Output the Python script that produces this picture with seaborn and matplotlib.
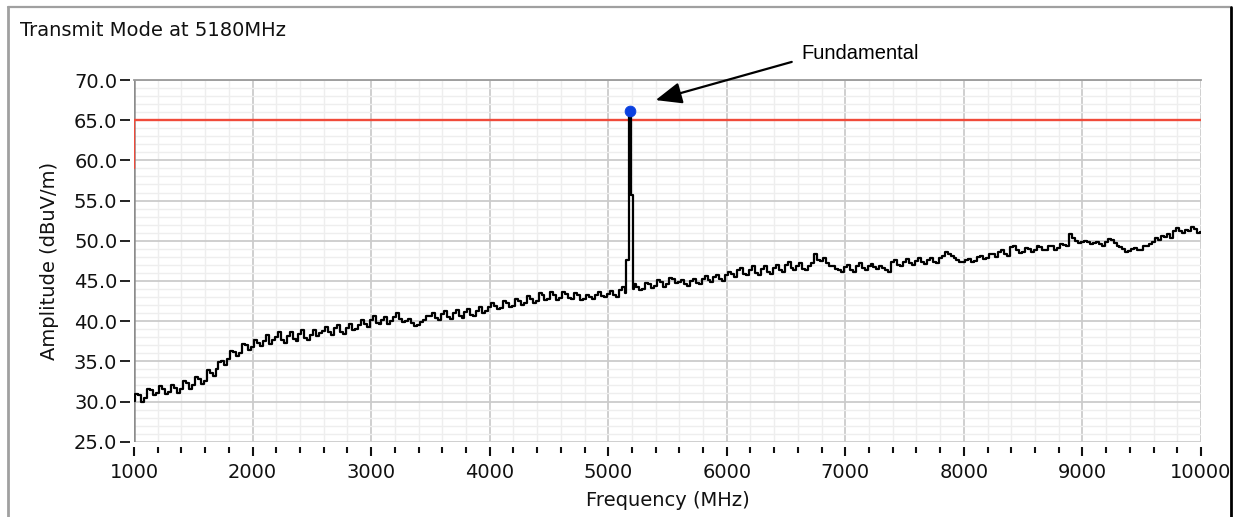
import numpy as np
import pandas as pd
import matplotlib
matplotlib.use('Agg')
import matplotlib.pyplot as plt
from matplotlib.lines import Line2D
from matplotlib.ticker import MultipleLocator, FormatStrFormatter
import seaborn as sns

# ── DATA (25 MHz steps) ──
freq = np.arange(1000, 10001, 25)
amp = [
    # 1000 - 1975
    30.1, 30.9, 30.8, 30.0, 30.4, 31.6, 31.4, 30.8, 31.0, 31.9, 31.6, 30.9, 31.2, 32.0, 31.7, 31.1, 31.5, 32.6, 32.3, 31.6,
    32.0, 33.1, 32.8, 32.2, 32.6, 33.9, 33.6, 33.2, 34.1, 34.9, 35.0, 34.5, 35.3, 36.3, 36.2, 35.6, 36.0, 37.2, 37.0, 36.4,
    # 2000 - 2975
    36.8, 37.6, 37.3, 36.9, 37.5, 38.3, 37.1, 37.6, 38.0, 38.6, 37.6, 37.3, 38.2, 38.7, 37.8, 37.5, 38.4, 38.9, 37.9, 37.6,
    38.3, 38.9, 38.1, 38.5, 38.8, 39.3, 38.6, 38.3, 39.1, 39.5, 38.7, 38.4, 39.2, 39.7, 38.9, 39.0, 39.5, 40.1, 39.6, 39.3,
    # 3000 - 3975
    40.2, 40.6, 39.8, 39.6, 40.1, 40.5, 39.7, 40.0, 40.5, 41.0, 40.3, 39.9, 40.0, 40.3, 39.8, 39.4, 39.5, 39.9, 40.2, 40.6,
    40.7, 41.0, 40.4, 40.1, 40.9, 41.2, 40.5, 40.3, 41.0, 41.4, 40.6, 40.4, 41.1, 41.5, 40.8, 40.6, 41.3, 41.7, 41.0, 41.2,
    # 4000 - 4975
    41.7, 42.2, 41.9, 41.5, 41.6, 42.5, 42.2, 41.7, 41.9, 42.8, 42.5, 42.0, 42.3, 43.1, 42.8, 42.3, 42.5, 43.5, 43.2, 42.6,
    42.8, 43.6, 43.3, 42.6, 42.9, 43.6, 43.4, 42.9, 42.7, 43.5, 43.2, 42.6, 42.8, 43.3, 43.0, 42.8, 43.3, 43.6, 43.1, 43.0,
    # 5000 - 5975
    43.4, 43.7, 43.2, 43.0, 43.9, 44.3, 43.5, 47.6, 55.7, 44.6, 44.3, 43.9, 44.0, 44.8, 44.6, 44.1, 44.4, 45.1, 44.9, 44.3,
    44.6, 45.4, 45.3, 44.7, 44.9, 45.1, 44.6, 44.4, 45.0, 45.3, 44.8, 44.6, 45.3, 45.6, 45.1, 44.9, 45.5, 45.8, 45.2, 45.0,
    # 6000 - 6975
    45.7, 46.1, 45.9, 45.5, 46.3, 46.6, 45.9, 45.7, 46.4, 46.8, 46.0, 45.8, 46.5, 46.9, 46.1, 45.9, 46.6, 47.0, 46.3, 46.1,
    47.0, 47.3, 46.6, 46.4, 46.9, 47.2, 46.5, 46.3, 46.9, 47.2, 48.3, 47.6, 47.5, 47.8, 47.2, 46.9, 46.8, 46.5, 46.3, 46.1,
    # 7000 - 7975
    46.7, 47.0, 46.4, 46.1, 46.9, 47.2, 46.6, 46.3, 46.9, 47.1, 46.7, 46.5, 46.9, 46.6, 46.3, 46.1, 47.3, 47.6, 47.0, 46.8,
    47.4, 47.7, 47.2, 47.0, 47.5, 47.8, 47.3, 47.1, 47.6, 47.9, 47.4, 47.2, 47.8, 48.1, 48.6, 48.3, 48.1, 47.8, 47.6, 47.3,
    # 8000 - 8975
    47.3, 47.6, 47.7, 47.4, 47.5, 48.0, 48.1, 47.7, 47.8, 48.3, 48.4, 48.0, 48.6, 48.9, 48.3, 48.1, 49.2, 49.4, 48.8, 48.5,
    48.6, 49.1, 49.0, 48.6, 48.8, 49.3, 49.2, 48.8, 48.9, 49.4, 49.3, 48.9, 49.1, 49.6, 49.5, 49.3, 50.9, 50.3, 50.0, 49.7,
    # 9000 - 9975
    49.8, 50.0, 49.9, 49.6, 49.7, 49.9, 49.6, 49.4, 49.8, 50.2, 50.1, 49.7, 49.4, 49.2, 49.0, 48.6, 48.7, 49.0, 49.1, 48.8,
    48.9, 49.3, 49.4, 49.6, 49.8, 50.3, 50.1, 50.6, 50.5, 50.9, 50.3, 51.2, 51.6, 51.2, 51.0, 51.4, 51.2, 51.7, 51.5, 51.0,
    # 10000
    51.1,
]
assert len(amp) == len(freq)

# fundamental carrier spike (edges of the carrier)
spike_freq = [5155, 5178, 5192, 5195, 5212, 5214]
spike_amp = [47.6, 66.2, 66.2, 55.7, 55.7, 44.0]

# limit line
limit_freq = [1000, 1000, 10000]
limit_amp = [59.1, 65.0, 65.0]

peak_freq = [5185]
peak_amp = [66.2]

trace = pd.concat([
    pd.DataFrame({'freq': freq, 'amp': amp}),
    pd.DataFrame({'freq': spike_freq, 'amp': spike_amp}),
]).sort_values('freq').reset_index(drop=True)
limit = pd.DataFrame({'freq': limit_freq, 'amp': limit_amp})

# ── PLOT ──
sns.set_style('white')
plt.rcParams['font.family'] = ['DejaVu Sans']
txt = '#111111'

fig = plt.figure(figsize=(12.38, 5.17), dpi=100)
W, H = 1238, 517
ax = fig.add_axes([134 / W, 1 - 441.7 / H, (1201 - 134) / W, (441.7 - 80) / H])

ax.set_xlim(1000, 10000)
ax.set_ylim(25, 70)

ax.xaxis.set_major_locator(MultipleLocator(1000))
ax.xaxis.set_minor_locator(MultipleLocator(200))
ax.yaxis.set_major_locator(MultipleLocator(5))
ax.yaxis.set_minor_locator(MultipleLocator(1))
ax.yaxis.set_major_formatter(FormatStrFormatter('%.1f'))

ax.grid(which='major', color='#cbcbcb', linewidth=1.3, zorder=0)
ax.grid(which='minor', color='#eeeeee', linewidth=1.0, zorder=0)
ax.set_axisbelow(True)

sns.lineplot(data=limit, x='freq', y='amp', ax=ax, estimator=None, sort=False,
             color='#f04a3a', linewidth=1.7, zorder=3)
sns.lineplot(data=trace, x='freq', y='amp', ax=ax, estimator=None, sort=False,
             color='black', linewidth=1.6, drawstyle='steps-mid', zorder=4)
sns.scatterplot(x=peak_freq, y=peak_amp, ax=ax, color='#0a40e0', s=60,
                edgecolor='#0a40e0', zorder=5, clip_on=False)

# spines
for s in ['right', 'bottom']:
    ax.spines[s].set_visible(False)
ax.spines['top'].set_color('#9a9a9a')
ax.spines['top'].set_linewidth(1.3)
ax.spines['left'].set_position(('outward', 3))
ax.spines['left'].set_visible(False)
ax.spines['bottom'].set_position(('outward', 4))
ax.axvline(1000, color='#8c8c8c', linewidth=1.8, zorder=2)

ax.tick_params(axis='y', which='major', direction='out', length=7, width=1.3,
               color=txt, labelsize=14, pad=2, left=True, labelcolor=txt)
ax.tick_params(axis='y', which='minor', left=False)
ax.tick_params(axis='x', which='major', direction='out', length=6.5, width=1.5,
               color=txt, labelsize=14, pad=5, bottom=True, labelcolor=txt)
ax.tick_params(axis='x', which='minor', direction='out', length=4.3, width=1.5,
               color=txt, bottom=True)

ax.set_xlabel('Frequency (MHz)', fontsize=14, color=txt)
ax.set_ylabel('Amplitude (dBuV/m)', fontsize=14, color=txt)
ax.xaxis.set_label_coords(0.5, -0.135)
ax.yaxis.set_label_coords(-0.070, 0.5)

fig.text(20 / W, 1 - 30 / H, 'Transmit Mode at 5180MHz', fontsize=14,
         color=txt, ha='left', va='center')

# annotation
ax.annotate('', xy=(5400, 67.5), xytext=(6548, 72.25), annotation_clip=False,
            arrowprops=dict(arrowstyle='-|>,head_length=0.8,head_width=0.33',
                            mutation_scale=20, color='black', lw=1.6,
                            shrinkA=0, shrinkB=0))
ax.text(6632, 73.25, 'Fundamental', fontsize=14.5, family='Liberation Sans',
        ha='left', va='center', color='black', clip_on=False)

# window frame
fig.add_artist(Line2D([8 / W, 1230 / W], [1 - 7 / H, 1 - 7 / H], color='#a0a0a0', lw=1.6))
fig.add_artist(Line2D([8 / W, 8 / W], [0, 1 - 7 / H], color='#a0a0a0', lw=2.0))
fig.add_artist(Line2D([1230.5 / W, 1230.5 / W], [0, 1 - 7 / H], color='black', lw=2.0))

fig.savefig('out.png', dpi=100)
plt.close(fig)
